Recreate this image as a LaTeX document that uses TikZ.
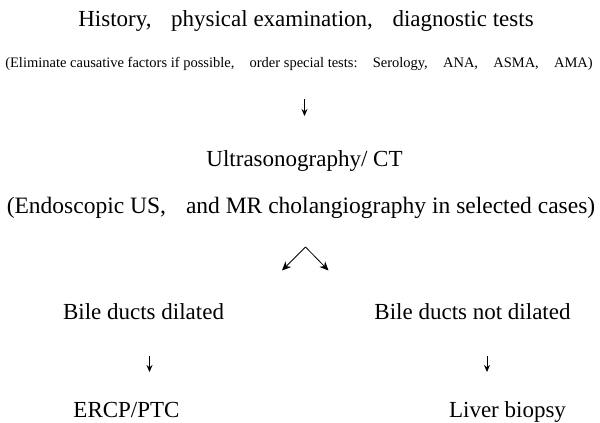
\documentclass[tikz,border=0pt]{standalone}
\usepackage{fontspec}
\setmainfont{Liberation Serif}
\usetikzlibrary{arrows.meta}
\tikzset{
  txt/.style={inner sep=0pt, anchor=base},
  big/.style={txt, font=\fontsize{23}{26}\selectfont},
  small/.style={txt, font=\fontsize{14.5}{17}\selectfont},
  arr/.style={-{Stealth[length=7pt,width=6pt]}, line width=0.8pt},
  varr/.style={-{Stealth[length=9pt,width=8pt]}, line width=0.8pt},
}
\newcommand{\fc}{,\hspace{0.85em}}
\newcommand{\fcs}{,\hspace{1.05em}}
\begin{document}
\begin{tikzpicture}[x=1pt,y=-1pt]
\useasboundingbox (0,0) rectangle (600,423);
\node[big] (h) at (306,27) {History\fc physical examination\fc diagnostic tests};
\node[small] (e) at (299,67) {(Eliminate causative factors if possible\fcs order special tests:\hspace{1.05em}Serology\fcs ANA\fcs ASMA\fcs AMA)};
\coordinate (a1s) at (304.5,99);
\coordinate (a1e) at (304.5,116);
\draw[arr] (a1s) -- (a1e);
\node[big] (u) at (304.5,166) {Ultrasonography/ CT};
\node[big, font=\fontsize{23.5}{26}\selectfont] (m) at (301,213) {(Endoscopic US\fc and MR cholangiography in selected cases)};
\coordinate (apex) at (305.5,247);
\coordinate (lt) at (282,270.5);
\coordinate (rt) at (328.5,270.5);
\draw[varr] (apex) -- (lt);
\draw[varr] (apex) -- (rt);
\node[big] (bd) at (143.5,319) {Bile ducts dilated};
\node[big] (bn) at (472.5,319) {Bile ducts not dilated};
\coordinate (l1) at (149.5,356);
\coordinate (l2) at (149.5,372);
\coordinate (r1) at (487,356);
\coordinate (r2) at (487,372);
\draw[arr] (l1) -- (l2);
\draw[arr] (r1) -- (r2);
\node[big] (er) at (126.5,417) {ERCP/PTC};
\node[big] (lb) at (507.5,417) {Liver biopsy};
\end{tikzpicture}
\end{document}
